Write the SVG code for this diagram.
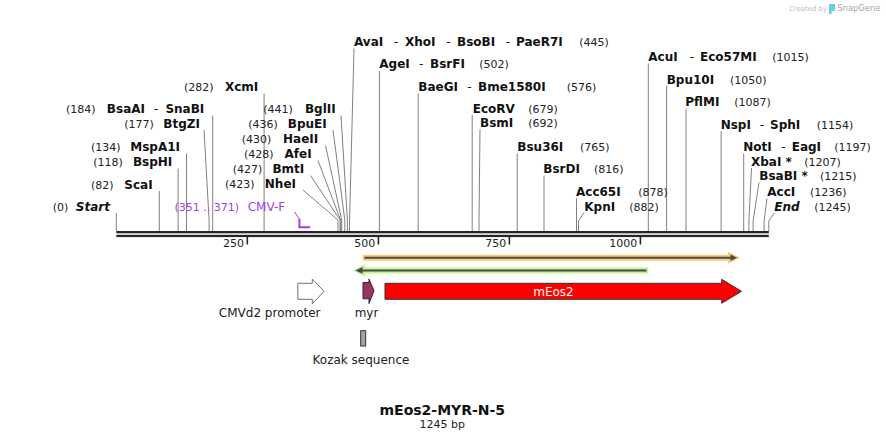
<svg xmlns="http://www.w3.org/2000/svg" width="886" height="441" viewBox="0 0 886 441">
<style>
text{font-family:"DejaVu Sans","Verdana",sans-serif;}
.n{font-size:12px;font-weight:bold;fill:#111;}
.ni{font-size:12px;font-weight:bold;font-style:italic;fill:#111;}
.d{font-size:12px;fill:#111;}
.p{font-size:11px;fill:#222;}
.e{text-anchor:end;}
.t{font-size:11px;fill:#222;text-anchor:end;}
.f{font-size:12px;fill:#222;text-anchor:middle;}
.cut{fill:none;stroke:#808080;stroke-width:1;}
.prm{fill:#a43ee8;}
</style>
<rect width="886" height="441" fill="#ffffff"/>

<!-- watermark -->
<g id="logo">
<text x="789.3" y="10.5" style="font-size:6.8px;fill:#bdbdbd">Created by</text>
<path d="M829,4 H835 V9.5 Q835,11 833.5,11 H831.5 V14 H829 Z" fill="#6cc9f0"/>
<text x="837.3" y="10.8" style="font-size:8.4px;fill:#a8a8a8">SnapGene</text>
</g>

<!-- backbone -->
<g id="backbone">
<rect x="116.3" y="231" width="652.5" height="2.3" fill="#262626"/>
<rect x="116.3" y="234.8" width="652.5" height="2.3" fill="#262626"/>
<g stroke="#262626" stroke-width="1.6">
<line x1="247.3" y1="237" x2="247.3" y2="244.5"/>
<line x1="378.4" y1="237" x2="378.4" y2="244.5"/>
<line x1="509.4" y1="237" x2="509.4" y2="244.5"/>
<line x1="640.4" y1="237" x2="640.4" y2="244.5"/>
</g>
<text class="t" x="244" y="247">250</text>
<text class="t" x="375.2" y="247">500</text>
<text class="t" x="506.2" y="247">750</text>
<text class="t" x="637.2" y="247">1000</text>
</g>

<!-- connectors: cut-site lines -->
<g id="connectors" class="cut">
<path d="M116.3,213 V231"/>
<path d="M159.3,191 V231"/>
<path d="M178.1,168.5 V231"/>
<path d="M186.5,153.5 V231"/>
<path d="M204,130 L209.1,220 V231"/>
<path d="M212.7,115.5 V231"/>
<path d="M264.1,93.5 V231"/>
<path d="M303,190 L338,220 V231"/>
<path d="M310.5,175.5 L340.1,220 V231"/>
<path d="M318,160.5 L340.6,220 V231"/>
<path d="M325.5,145.5 L341.7,220 V231"/>
<path d="M333,130 L344.8,220 V231"/>
<path d="M341,115.5 L347.4,220 V231"/>
<path d="M354,48.5 L349.5,222 V231"/>
<path d="M379.4,71 V231"/>
<path d="M418.2,93.5 V231"/>
<path d="M472.2,115 V231"/>
<path d="M480,129.5 L479,220 V231"/>
<path d="M517.2,153.5 V231"/>
<path d="M544,175.5 V231"/>
<path d="M576.5,198.5 V231"/>
<path d="M584,212.5 L578.5,221 V231"/>
<path d="M648.3,63.5 V231"/>
<path d="M666.6,86 V231"/>
<path d="M686,108.5 V231"/>
<path d="M721.1,131 V231"/>
<path d="M743.7,153.5 V231"/>
<path d="M751.5,168 L748.9,221 V231"/>
<path d="M759,182.5 L753.1,221 V231"/>
<path d="M767,198.5 L764.1,221 V231"/>
<path d="M774.5,213 L768.8,221 V231"/>
</g>

<!-- left-side labels -->
<g id="start"><text class="p" x="52.7" y="211">(0)</text><text class="ni e" x="110" y="211">Start</text></g>
<g id="ScaI"><text class="p" x="91" y="188.5">(82)</text><text class="n e" x="152.7" y="188.5">ScaI</text></g>
<g id="BspHI"><text class="p" x="93.3" y="166">(118)</text><text class="n e" x="172.3" y="166">BspHI</text></g>
<g id="MspA1I"><text class="p" x="91" y="151">(134)</text><text class="n e" x="180" y="151">MspA1I</text></g>
<g id="BtgZI"><text class="p" x="124.3" y="127.5">(177)</text><text class="n e" x="200" y="127.5">BtgZI</text></g>
<g id="BsaAI-SnaBI"><text class="p" x="66" y="113">(184)</text><text class="n e" x="145" y="113">BsaAI</text><text class="d" x="154" y="113">-</text><text class="n e" x="204.3" y="113">SnaBI</text></g>
<g id="XcmI"><text class="p" x="184" y="91">(282)</text><text class="n e" x="258.3" y="91">XcmI</text></g>
<g id="NheI"><text class="p" x="225" y="188">(423)</text><text class="n e" x="296" y="188">NheI</text></g>
<g id="BmtI"><text class="p" x="232.7" y="173">(427)</text><text class="n e" x="304.3" y="173">BmtI</text></g>
<g id="AfeI"><text class="p" x="244" y="158">(428)</text><text class="n e" x="311.7" y="158">AfeI</text></g>
<g id="HaeII"><text class="p" x="241.7" y="143">(430)</text><text class="n e" x="318.3" y="143">HaeII</text></g>
<g id="BpuEI"><text class="p" x="248.3" y="127.5">(436)</text><text class="n e" x="326.7" y="127.5">BpuEI</text></g>
<g id="BglII"><text class="p" x="263.3" y="113">(441)</text><text class="n e" x="335.7" y="113">BglII</text></g>

<!-- primer CMV-F -->
<g id="CMV-F">
<text x="239" y="211" text-anchor="end" style="font-size:11px" class="prm">(351 .. 371)</text>
<text x="247.7" y="211" style="font-size:12px" class="prm">CMV-F</text>
<path d="M294.5,212 L299.4,219" fill="none" stroke="#a43ee8" stroke-width="1"/>
<path d="M299.4,219 V227.2 H310.2" fill="none" stroke="#a43ee8" stroke-width="2"/>
</g>

<!-- right-side labels -->
<g id="AvaI-XhoI-BsoBI-PaeR7I"><text class="n" x="354" y="45.5">AvaI</text><text class="d" x="394" y="45.5">-</text><text class="n" x="405" y="45.5">XhoI</text><text class="d" x="446.3" y="45.5">-</text><text class="n" x="457" y="45.5">BsoBI</text><text class="d" x="505.7" y="45.5">-</text><text class="n" x="516" y="45.5">PaeR7I</text><text class="p" x="579.3" y="45.5">(445)</text></g>
<g id="AgeI-BsrFI"><text class="n" x="379.3" y="68">AgeI</text><text class="d" x="419" y="68">-</text><text class="n" x="430" y="68">BsrFI</text><text class="p" x="479.3" y="68">(502)</text></g>
<g id="BaeGI-Bme1580I"><text class="n" x="418.3" y="90.5">BaeGI</text><text class="d" x="467.3" y="90.5">-</text><text class="n" x="478" y="90.5">Bme1580I</text><text class="p" x="566.7" y="90.5">(576)</text></g>
<g id="EcoRV"><text class="n" x="472.7" y="112.5">EcoRV</text><text class="p" x="528.3" y="112.5">(679)</text></g>
<g id="BsmI"><text class="n" x="480" y="127">BsmI</text><text class="p" x="528.3" y="127">(692)</text></g>
<g id="Bsu36I"><text class="n" x="517.3" y="151">Bsu36I</text><text class="p" x="580" y="151">(765)</text></g>
<g id="BsrDI"><text class="n" x="543.3" y="173">BsrDI</text><text class="p" x="594" y="173">(816)</text></g>
<g id="Acc65I"><text class="n" x="576" y="196">Acc65I</text><text class="p" x="638.3" y="196">(878)</text></g>
<g id="KpnI"><text class="n" x="584.3" y="210.5">KpnI</text><text class="p" x="629.3" y="210.5">(882)</text></g>
<g id="AcuI-Eco57MI"><text class="n" x="648.3" y="61">AcuI</text><text class="d" x="689.7" y="61">-</text><text class="n" x="700" y="61">Eco57MI</text><text class="p" x="772.3" y="61">(1015)</text></g>
<g id="Bpu10I"><text class="n" x="666.7" y="83.5">Bpu10I</text><text class="p" x="730" y="83.5">(1050)</text></g>
<g id="PflMI"><text class="n" x="685.3" y="106">PflMI</text><text class="p" x="734.3" y="106">(1087)</text></g>
<g id="NspI-SphI"><text class="n" x="720.7" y="128.5">NspI</text><text class="d" x="759.7" y="128.5">-</text><text class="n" x="770" y="128.5">SphI</text><text class="p" x="816.7" y="128.5">(1154)</text></g>
<g id="NotI-EagI"><text class="n" x="743.3" y="151">NotI</text><text class="d" x="781.3" y="151">-</text><text class="n" x="791.7" y="151">EagI</text><text class="p" x="834.3" y="151">(1197)</text></g>
<g id="XbaI"><text class="n" x="751" y="165.5">XbaI *</text><text class="p" x="804.3" y="165.5">(1207)</text></g>
<g id="BsaBI"><text class="n" x="759.3" y="180">BsaBI *</text><text class="p" x="820" y="180">(1215)</text></g>
<g id="AccI"><text class="n" x="767.3" y="196">AccI</text><text class="p" x="810" y="196">(1236)</text></g>
<g id="end"><text class="ni" x="774.3" y="211">End</text><text class="p" x="814.3" y="211">(1245)</text></g>

<!-- ORF / translated bars -->
<g id="orf-forward">
<line x1="362.7" y1="257.8" x2="733" y2="257.8" stroke="#fbc97a" stroke-width="6"/>
<polygon points="728,251.8 740,257.8 728,263.8" fill="#fbc97a"/>
<line x1="364.5" y1="257.8" x2="732" y2="257.8" stroke="#4a4a4a" stroke-width="2"/>
<polygon points="730.5,254.5 737,257.8 730.5,261.1" fill="#4a4a4a"/>
</g>
<g id="orf-reverse">
<line x1="360" y1="270.4" x2="648.3" y2="270.4" stroke="#c2f28e" stroke-width="6"/>
<polygon points="365,264.4 352.7,270.4 365,276.4" fill="#c2f28e"/>
<line x1="360" y1="270.4" x2="646.5" y2="270.4" stroke="#4a4a4a" stroke-width="2"/>
<polygon points="362.5,267.1 355.5,270.4 362.5,273.7" fill="#4a4a4a"/>
</g>

<!-- features -->
<g id="CMVd2-promoter">
<polygon points="297.8,283.3 312.3,283.3 312.3,279 324,291.3 312.3,303.8 312.3,299.3 297.8,299.3" fill="#ffffff" stroke="#707070" stroke-width="1"/>
<text class="f" x="269.7" y="317">CMVd2 promoter</text>
</g>
<g id="myr">
<polygon points="363,282.5 369,282.5 369,279 374,290.8 369,303.5 369,298.8 363,298.8" fill="#993366" stroke="#2a2a2a" stroke-width="1"/>
<text class="f" x="366.5" y="317">myr</text>
</g>
<g id="mEos2">
<polygon points="385,283.3 721.7,283.3 721.7,279.3 741.5,291.3 721.7,303.3 721.7,299.3 385,299.3" fill="#ff0000" stroke="#333333" stroke-width="1"/>
<text x="553.5" y="295.5" text-anchor="middle" style="font-size:12px;fill:#ffffff">mEos2</text>
</g>
<g id="Kozak-sequence">
<rect x="360.7" y="330.7" width="5" height="15.3" fill="#a2a6ab" stroke="#333333" stroke-width="1"/>
<text class="f" x="361" y="364">Kozak sequence</text>
</g>

<!-- title -->
<g id="title">
<text x="442.3" y="415" text-anchor="middle" style="font-size:14px;font-weight:bold;fill:#111">mEos2-MYR-N-5</text>
<text x="442.3" y="427.5" text-anchor="middle" style="font-size:11px;fill:#222">1245 bp</text>
</g>
</svg>
